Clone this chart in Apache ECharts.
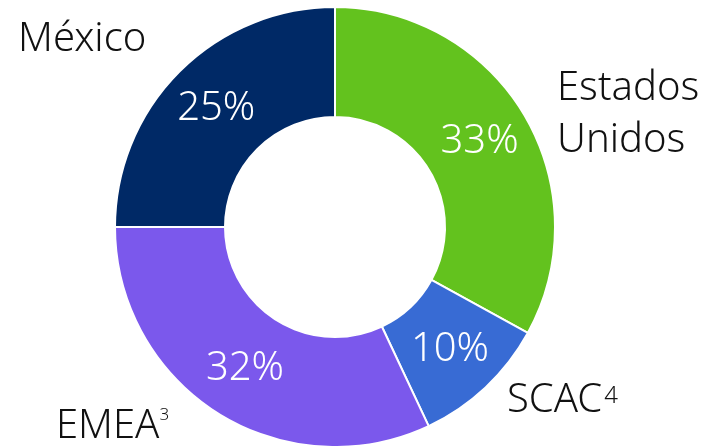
<!DOCTYPE html>
<html>
<head>
<meta charset="utf-8">
<script src="https://cdn.jsdelivr.net/npm/echarts@6/dist/echarts.min.js"></script>
<style>
  html, body { margin: 0; padding: 0; background: #fff; }
  #chart { width: 710px; height: 446px; }
</style>
</head>
<body>
<div id="chart"></div>
<script>
  // Datos del gráfico (orden horario desde arriba)
  const regiones = ['Estados Unidos', 'SCAC', 'EMEA', 'México'];
  const etiquetas = ['{t|Estados}\n{t|Unidos}', '{t|SCAC}{s4|4}', '{t|EMEA}{s3|3}', '{t|México}'];
  const porcentajes = [33, 10, 32, 25];
  const colores = ['#63c21e', '#386bd4', '#7b58ec', '#002966'];

  // posiciones de las etiquetas exteriores
  const posEtiquetas = [
    { x: 557, y: 115 },
    { x: 507, y: 401 },
    { x: 56, y: 427 },
    { x: 18, y: 40 }
  ];

  const fuente = '"Noto Sans", sans-serif';
  const chart = echarts.init(document.getElementById('chart'));

  const option = {
    animation: false,
    series: [
      {
        type: 'pie',
        center: [335, 227],
        radius: [110, 220],
        startAngle: 90,
        clockwise: true,
        avoidLabelOverlap: false,
        itemStyle: { borderColor: '#fff', borderWidth: 2 },
        label: {
          show: true,
          position: 'inside',
          color: '#fff',
          fontSize: 40,
          fontWeight: 300,
          fontFamily: fuente,
          formatter: p => p.value + '%'
        },
        labelLine: { show: false },
        emphasis: { disabled: true },
        data: regiones.map((r, i) => ({
          name: r,
          value: porcentajes[i],
          itemStyle: { color: colores[i] }
        }))
      },
      {
        type: 'pie',
        center: [335, 227],
        radius: [110, 220],
        startAngle: 90,
        silent: true,
        z: 3,
        avoidLabelOverlap: false,
        itemStyle: { color: 'rgba(0,0,0,0)', borderWidth: 0 },
        label: {
          show: true,
          position: 'outside',
          color: '#111',
          fontFamily: fuente,
          formatter: p => etiquetas[p.dataIndex],
          rich: {
            t: { fontSize: 40, fontWeight: 300, fontFamily: fuente, color: '#111', lineHeight: 52 },
            s4: { fontSize: 24, fontWeight: 300, fontFamily: fuente, color: '#111', verticalAlign: 'top', padding: [9, 0, 0, 2] },
            s3: { fontSize: 17, fontWeight: 300, fontFamily: fuente, color: '#111', verticalAlign: 'top', padding: [6, 0, 0, 0] }
          }
        },
        labelLine: { show: false },
        labelLayout: p => ({
          x: posEtiquetas[p.dataIndex].x,
          y: posEtiquetas[p.dataIndex].y,
          align: 'left',
          verticalAlign: 'middle'
        }),
        emphasis: { disabled: true },
        data: regiones.map((r, i) => ({ name: r, value: porcentajes[i] }))
      }
    ]
  };

  chart.setOption(option);
</script>
</body>
</html>
